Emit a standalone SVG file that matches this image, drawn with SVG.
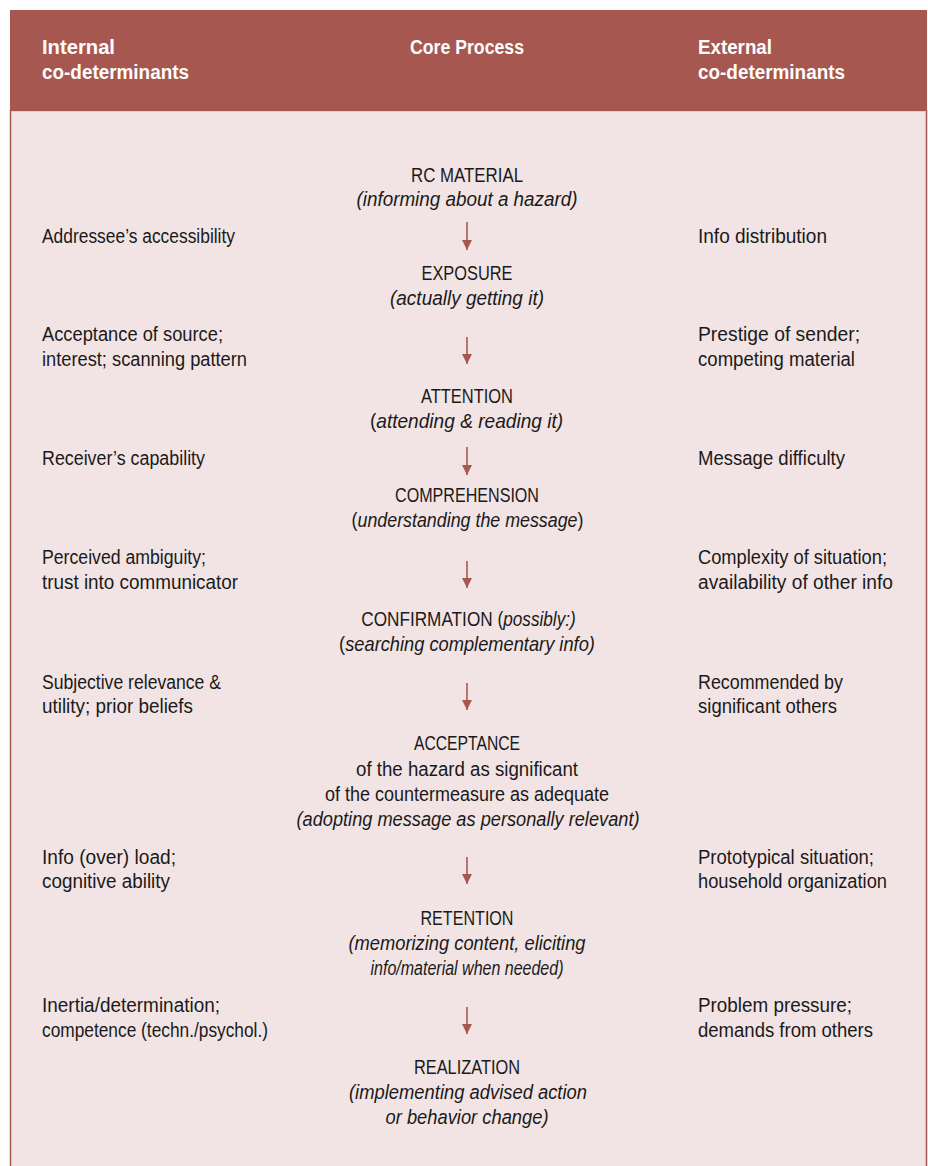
<svg xmlns="http://www.w3.org/2000/svg" width="928" height="1166" viewBox="0 0 928 1166">
<defs>
<style>
.hd{font-family:"Liberation Sans",Arial,sans-serif;font-size:20px;font-weight:bold;fill:#ffffff}
.t{font-family:"Liberation Sans",Arial,sans-serif;font-size:20px;fill:#1a1a1a}
.c{text-anchor:middle}
.i{font-style:italic}
.ar{stroke:#a65850;stroke-width:1.6;fill:none}
</style>
<marker id="ah" viewBox="0 0 10 10" refX="10" refY="5" markerWidth="10" markerHeight="10" markerUnits="userSpaceOnUse" orient="auto">
<path d="M0,0 L10,5 L0,10 Z" fill="#a65850"/>
</marker>
</defs>
<rect x="10.5" y="110.5" width="916" height="1060" fill="#f2e4e4" stroke="#a65850" stroke-width="1.5"/>
<rect x="10" y="10" width="917" height="101" fill="#a65850"/>
<line x1="11" y1="111.5" x2="926" y2="111.5" stroke="#e3c9c6" stroke-width="1"/>
<g id="header">
<text class="hd" x="42" y="54" textLength="73" lengthAdjust="spacingAndGlyphs">Internal</text>
<text class="hd" x="42" y="79" textLength="147" lengthAdjust="spacingAndGlyphs">co-determinants</text>
<text class="hd c" x="467" y="54" textLength="114" lengthAdjust="spacingAndGlyphs">Core Process</text>
<text class="hd" x="698" y="54" textLength="74" lengthAdjust="spacingAndGlyphs">External</text>
<text class="hd" x="698" y="79" textLength="147" lengthAdjust="spacingAndGlyphs">co-determinants</text>
</g>
<g id="connectors">
<line class="ar" x1="467" y1="222" x2="467" y2="250" marker-end="url(#ah)"/>
<line class="ar" x1="467" y1="337" x2="467" y2="364" marker-end="url(#ah)"/>
<line class="ar" x1="467" y1="447" x2="467" y2="475" marker-end="url(#ah)"/>
<line class="ar" x1="467" y1="561" x2="467" y2="588" marker-end="url(#ah)"/>
<line class="ar" x1="467" y1="683" x2="467" y2="710" marker-end="url(#ah)"/>
<line class="ar" x1="467" y1="857" x2="467" y2="884" marker-end="url(#ah)"/>
<line class="ar" x1="467" y1="1007" x2="467" y2="1034" marker-end="url(#ah)"/>
</g>
<g id="rc-material"><text class="t c" x="467" y="182" textLength="112" lengthAdjust="spacingAndGlyphs">RC MATERIAL</text><text class="t c i" x="467" y="206" textLength="221" lengthAdjust="spacingAndGlyphs">(informing about a hazard)</text></g>
<g id="exposure"><text class="t c" x="467" y="280" textLength="91" lengthAdjust="spacingAndGlyphs">EXPOSURE</text><text class="t c i" x="467" y="305" textLength="154" lengthAdjust="spacingAndGlyphs">(actually getting it)</text></g>
<g id="attention"><text class="t c" x="467" y="403" textLength="92" lengthAdjust="spacingAndGlyphs">ATTENTION</text><text class="t c" transform="translate(466.5,428) scale(0.955,1)" x="0" y="0">(<tspan class="i">attending &amp; reading it)</tspan></text></g>
<g id="comprehension"><text class="t c" x="467" y="502" textLength="144" lengthAdjust="spacingAndGlyphs">COMPREHENSION</text><text class="t c" transform="translate(467.5,527) scale(0.892,1)" x="0" y="0">(<tspan class="i">understanding the message</tspan>)</text></g>
<g id="confirmation"><text class="t c" transform="translate(468.5,626) scale(0.86,1)" x="0" y="0">CONFIRMATION (<tspan class="i">possibly:)</tspan></text><text class="t c" transform="translate(467,651) scale(0.914,1)" x="0" y="0">(<tspan class="i">searching complementary info)</tspan></text></g>
<g id="acceptance"><text class="t c" x="467" y="750" textLength="106" lengthAdjust="spacingAndGlyphs">ACCEPTANCE</text><text class="t c" x="467" y="776" textLength="222" lengthAdjust="spacingAndGlyphs">of the hazard as significant</text><text class="t c" x="467" y="801" textLength="284" lengthAdjust="spacingAndGlyphs">of the countermeasure as adequate</text><text class="t c i" x="468" y="826" textLength="343" lengthAdjust="spacingAndGlyphs">(adopting message as personally relevant)</text></g>
<g id="retention"><text class="t c" x="467" y="925" textLength="93" lengthAdjust="spacingAndGlyphs">RETENTION</text><text class="t c i" x="467" y="950" textLength="237" lengthAdjust="spacingAndGlyphs">(memorizing content, eliciting</text><text class="t c i" x="467" y="975" textLength="193" lengthAdjust="spacingAndGlyphs">info/material when needed)</text></g>
<g id="realization"><text class="t c" x="467" y="1074" textLength="106" lengthAdjust="spacingAndGlyphs">REALIZATION</text><text class="t c i" x="468" y="1099" textLength="238" lengthAdjust="spacingAndGlyphs">(implementing advised action</text><text class="t c i" x="467" y="1124" textLength="163" lengthAdjust="spacingAndGlyphs">or behavior change)</text></g>
<g id="internal">
<text class="t" x="42" y="243" textLength="193" lengthAdjust="spacingAndGlyphs">Addressee’s accessibility</text>
<text class="t" x="42" y="341" textLength="181" lengthAdjust="spacingAndGlyphs">Acceptance of source;</text><text class="t" x="42" y="366" textLength="205" lengthAdjust="spacingAndGlyphs">interest; scanning pattern</text>
<text class="t" x="42" y="465" textLength="163" lengthAdjust="spacingAndGlyphs">Receiver’s capability</text>
<text class="t" x="42" y="564" textLength="164" lengthAdjust="spacingAndGlyphs">Perceived ambiguity;</text><text class="t" x="42" y="589" textLength="196" lengthAdjust="spacingAndGlyphs">trust into communicator</text>
<text class="t" x="42" y="689" textLength="179" lengthAdjust="spacingAndGlyphs">Subjective relevance &amp;</text><text class="t" x="42" y="713" textLength="151" lengthAdjust="spacingAndGlyphs">utility; prior beliefs</text>
<text class="t" x="42" y="864" textLength="134" lengthAdjust="spacingAndGlyphs">Info (over) load;</text><text class="t" x="42" y="888" textLength="128" lengthAdjust="spacingAndGlyphs">cognitive ability</text>
<text class="t" x="42" y="1012" textLength="178" lengthAdjust="spacingAndGlyphs">Inertia/determination;</text><text class="t" x="42" y="1037" textLength="226" lengthAdjust="spacingAndGlyphs">competence (techn./psychol.)</text>
</g>
<g id="external">
<text class="t" x="698" y="243" textLength="129" lengthAdjust="spacingAndGlyphs">Info distribution</text>
<text class="t" x="698" y="341" textLength="162" lengthAdjust="spacingAndGlyphs">Prestige of sender;</text><text class="t" x="698" y="366" textLength="157" lengthAdjust="spacingAndGlyphs">competing material</text>
<text class="t" x="698" y="465" textLength="147" lengthAdjust="spacingAndGlyphs">Message difficulty</text>
<text class="t" x="698" y="564" textLength="189" lengthAdjust="spacingAndGlyphs">Complexity of situation;</text><text class="t" x="698" y="589" textLength="195" lengthAdjust="spacingAndGlyphs">availability of other info</text>
<text class="t" x="698" y="689" textLength="145" lengthAdjust="spacingAndGlyphs">Recommended by</text><text class="t" x="698" y="713" textLength="139" lengthAdjust="spacingAndGlyphs">significant others</text>
<text class="t" x="698" y="864" textLength="176" lengthAdjust="spacingAndGlyphs">Prototypical situation;</text><text class="t" x="698" y="888" textLength="189" lengthAdjust="spacingAndGlyphs">household organization</text>
<text class="t" x="698" y="1012" textLength="154" lengthAdjust="spacingAndGlyphs">Problem pressure;</text><text class="t" x="698" y="1037" textLength="175" lengthAdjust="spacingAndGlyphs">demands from others</text>
</g>
</svg>
